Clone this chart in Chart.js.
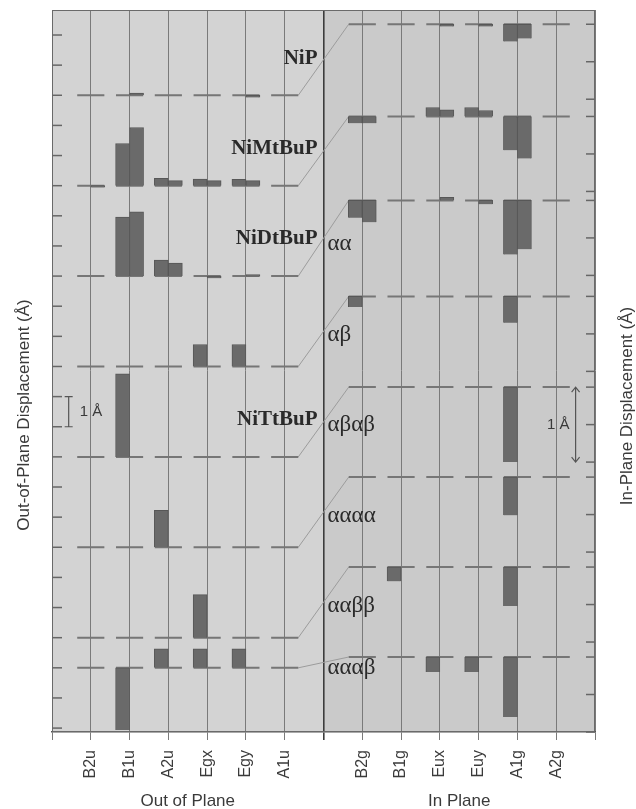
<!DOCTYPE html>
<html lang="en">
<head>
<meta charset="UTF-8">
<title>Out-of-plane and in-plane displacements</title>
<script src="https://cdn.jsdelivr.net/npm/chart.js"></script>
<style>
  html, body { margin: 0; padding: 0; background: #fff; }
  #chart { display: block; }
</style>
</head>
<body>
<canvas id="chart" width="636" height="809"></canvas>
<script>
// symmetry species: out-of-plane (left panel) and in-plane (right panel)
const outCats = ['B2u', 'B1u', 'A2u', 'Egx', 'Egy', 'A1u'];
const inCats = ['B2g', 'B1g', 'Eux', 'Euy', 'A1g', 'A2g'];

// one row per molecule / conformer, top to bottom
const molLabels = ['NiP', 'NiMtBuP', 'NiDtBuP', '', 'NiTtBuP', '', '', ''];
const confLabels = ['', '', 'αα', 'αβ', 'αβαβ', 'αααα', 'ααββ', 'αααβ'];

// zero line of each row (Å, on the axis of its panel)
const outBase = [21, 18, 15, 12, 9, 6, 3, 2];
const inBase = [9.44, 8.21, 7.09, 5.81, 4.6, 3.4, 2.2, 1.0];

// displacements in Å, first and second bar of each pair
const outA = [
  [0, 0, 0, 0, 0, 0],
  [0, 1.40, 0.24, 0.22, 0.21, 0],
  [0, 1.96, 0.53, 0, 0, 0],
  [0, 0, 0, 0.73, 0.73, 0],
  [0, 2.76, 0, 0, 0, 0],
  [0, 0, 1.23, 0, 0, 0],
  [0, 0, 0, 1.43, 0, 0],
  [0, -2.06, 0.63, 0.63, 0.63, 0]
];
const outB = [
  [0, 0.07, 0, 0, -0.07, 0],
  [-0.05, 1.93, 0.17, 0.17, 0.17, 0],
  [0, 2.13, 0.43, -0.07, 0.05, 0],
  [0, 0, 0, 0, 0, 0],
  [0, 0, 0, 0, 0, 0],
  [0, 0, 0, 0, 0, 0],
  [0, 0, 0, 0, 0, 0],
  [0, 0, 0, 0, 0, 0]
];
const inA = [
  [0, 0, 0, 0, -0.23, 0],
  [-0.09, 0, 0.12, 0.12, -0.45, 0],
  [-0.23, 0, 0, 0, -0.72, 0],
  [-0.14, 0, 0, 0, -0.35, 0],
  [0, 0, 0, 0, -1.0, 0],
  [0, 0, 0, 0, -0.51, 0],
  [0, -0.19, 0, 0, -0.52, 0],
  [0, 0, -0.2, -0.2, -0.8, 0]
];
const inB = [
  [0, 0, -0.03, -0.03, -0.19, 0],
  [-0.09, 0, 0.09, 0.08, -0.56, 0],
  [-0.29, 0, 0.04, -0.05, -0.65, 0],
  [0, 0, 0, 0, 0, 0],
  [0, 0, 0, 0, 0, 0],
  [0, 0, 0, 0, 0, 0],
  [0, 0, 0, 0, 0, 0],
  [0, 0, 0, 0, 0, 0]
];

const panels = [
  { axis: 'y', first: 1, base: outBase, a: outA, b: outB },
  { axis: 'y2', first: 8, base: inBase, a: inA, b: inB }
];

function tickName(v) {
  if (v >= 1 && v <= 6) return outCats[v - 1];
  if (v >= 8 && v <= 13) return inCats[v - 8];
  return '';
}

const datasets = [];
['a', 'b'].forEach(stack => {
  panels.forEach(p => {
    p[stack].forEach((row, r) => {
      datasets.push({
        type: 'bar',
        stack: stack,
        yAxisID: p.axis,
        data: row.map((v, i) => v ? { x: p.first + i, y: [p.base[r], p.base[r] + v] } : null).filter(Boolean),
        backgroundColor: '#6a6a6a',
        borderColor: '#575757',
        borderWidth: 1,
        barThickness: 14,
        order: 0
      });
    });
  });
});

// dashed zero line of every row: one short dash under each species
const dashHalf = 0.35;
panels.forEach(p => {
  const pts = [];
  p.base.forEach(b => {
    for (let i = 0; i < 6; i++) {
      const c = p.first + i;
      pts.push({ x: c - dashHalf, y: b }, { x: c + dashHalf, y: b }, { x: c + 0.5, y: null });
    }
  });
  datasets.push({
    type: 'line',
    yAxisID: p.axis,
    data: pts,
    borderColor: '#767676',
    borderWidth: 2,
    pointRadius: 0,
    spanGaps: false,
    order: 1
  });
});

function vText(ctx, text, cx, cy) {
  ctx.save();
  ctx.translate(cx, cy);
  ctx.rotate(-Math.PI / 2);
  ctx.textAlign = 'center';
  ctx.textBaseline = 'middle';
  ctx.fillText(text, 0, 0);
  ctx.restore();
}

const decorPlugin = {
  id: 'decor',
  beforeDraw(chart) {
    const { ctx, chartArea: a, scales: { x } } = chart;
    const mid = x.getPixelForValue(7);
    ctx.save();
    ctx.fillStyle = '#fff';
    ctx.fillRect(0, 0, chart.width, chart.height);
    ctx.fillStyle = '#d3d3d3';
    ctx.fillRect(a.left, a.top, mid - a.left, a.bottom - a.top);
    ctx.fillStyle = '#cacaca';
    ctx.fillRect(mid, a.top, a.right - mid, a.bottom - a.top);
    ctx.restore();
  },
  beforeDatasetsDraw(chart) {
    // thin grey links from each left zero line to the matching right one
    const { ctx, scales: { x, y, y2 } } = chart;
    ctx.save();
    ctx.strokeStyle = '#9c9c9c';
    ctx.lineWidth = 1;
    outBase.forEach((b, r) => {
      ctx.beginPath();
      ctx.moveTo(x.getPixelForValue(6 + dashHalf), y.getPixelForValue(b));
      ctx.lineTo(x.getPixelForValue(8 - dashHalf), y2.getPixelForValue(inBase[r]));
      ctx.stroke();
    });
    ctx.restore();
  },
  afterDatasetsDraw(chart) {
    const { ctx, chartArea: a, scales: { x, y, y2 } } = chart;
    ctx.save();

    // frame
    ctx.strokeStyle = '#6a6a6a';
    ctx.lineWidth = 1;
    ctx.strokeRect(a.left + 0.5, a.top + 0.5, a.right - a.left - 1, a.bottom - a.top - 1);

    // inward tick marks on both value axes
    ctx.strokeStyle = '#666';
    ctx.lineWidth = 1.5;
    y.ticks.forEach(t => {
      const py = y.getPixelForValue(t.value);
      ctx.beginPath(); ctx.moveTo(a.left, py); ctx.lineTo(a.left + 10, py); ctx.stroke();
    });
    y2.ticks.forEach(t => {
      const py = y2.getPixelForValue(t.value);
      ctx.beginPath(); ctx.moveTo(a.right - 9, py); ctx.lineTo(a.right, py); ctx.stroke();
    });

    // molecule names (bold) and conformer names
    const mid = x.getPixelForValue(7);
    ctx.fillStyle = '#2a2a2a';
    ctx.textBaseline = 'alphabetic';
    ctx.textAlign = 'right';
    ctx.font = 'bold 21px "Liberation Serif", serif';
    molLabels.forEach((t, r) => {
      if (t) ctx.fillText(t, mid - 6, y.getPixelForValue(outBase[r] + 1.05));
    });
    ctx.textAlign = 'left';
    ctx.font = '23px "Liberation Serif", serif';
    confLabels.forEach((t, r) => {
      if (!t) return;
      const off = r === confLabels.length - 1 ? -0.2 : 0.85;
      ctx.fillText(t, mid + 4, y.getPixelForValue(outBase[r] + off));
    });

    // 1 Å scale markers
    ctx.strokeStyle = '#555';
    ctx.fillStyle = '#3a3a3a';
    ctx.lineWidth = 1.2;
    const lx = x.getPixelForValue(0.43);
    const ly1 = y.getPixelForValue(outBase[4] + 2);
    const ly2 = y.getPixelForValue(outBase[4] + 1);
    ctx.beginPath();
    ctx.moveTo(lx, ly1); ctx.lineTo(lx, ly2);
    ctx.moveTo(lx - 4, ly1); ctx.lineTo(lx + 4, ly1);
    ctx.moveTo(lx - 4, ly2); ctx.lineTo(lx + 4, ly2);
    ctx.stroke();
    ctx.font = '15px "Liberation Sans", sans-serif';
    ctx.textAlign = 'left';
    ctx.textBaseline = 'middle';
    ctx.fillText('1 Å', lx + 11, (ly1 + ly2) / 2);

    const rx = x.getPixelForValue(13.5);
    const ry1 = y2.getPixelForValue(inBase[4]);
    const ry2 = y2.getPixelForValue(inBase[4] - 1);
    ctx.beginPath();
    ctx.moveTo(rx, ry1); ctx.lineTo(rx, ry2);
    ctx.moveTo(rx - 4, ry1 + 5); ctx.lineTo(rx, ry1); ctx.lineTo(rx + 4, ry1 + 5);
    ctx.moveTo(rx - 4, ry2 - 5); ctx.lineTo(rx, ry2); ctx.lineTo(rx + 4, ry2 - 5);
    ctx.stroke();
    ctx.textAlign = 'right';
    ctx.fillText('1 Å', rx - 6, (ry1 + ry2) / 2);

    // axis titles
    ctx.fillStyle = '#3a3a3a';
    ctx.font = '17px "Liberation Sans", sans-serif';
    vText(ctx, 'Out-of-Plane Displacement (Å)', 24, 415);
    vText(ctx, 'In-Plane Displacement (Å)', 627, 406);
    ctx.textAlign = 'center';
    ctx.textBaseline = 'alphabetic';
    ctx.fillText('Out of Plane', x.getPixelForValue(3.5), 806);
    ctx.fillText('In Plane', x.getPixelForValue(10.5), 806);

    ctx.restore();
  }
};

const config = {
  type: 'bar',
  data: { datasets: datasets },
  options: {
    responsive: false,
    animation: false,
    layout: { padding: { top: 10, left: 0, right: 0, bottom: 0 } },
    plugins: {
      legend: { display: false },
      tooltip: { enabled: false }
    },
    scales: {
      x: {
        type: 'linear',
        min: 0,
        max: 14,
        offset: false,
        afterBuildTicks: s => { s.ticks = Array.from({ length: 15 }, (_, i) => ({ value: i })); },
        afterFit: s => { s.height = 77; },
        ticks: {
          autoSkip: false,
          minRotation: 90,
          maxRotation: 90,
          padding: 10,
          color: '#3a3a3a',
          font: { family: 'Liberation Sans', size: 16 },
          callback: v => tickName(v)
        },
        grid: {
          offset: false,
          tickLength: 8,
          color: c => (c.tick && c.tick.value === 7) ? '#3c3c3c' : '#7a7a7a',
          lineWidth: c => (c.tick && c.tick.value === 7) ? 1.6 : 1
        },
        border: { display: true, color: '#555', width: 1.5 }
      },
      y: {
        type: 'linear',
        position: 'left',
        min: -0.13,
        max: 23.83,
        stacked: false,
        afterBuildTicks: s => {
          const t = [];
          for (let v = Math.ceil(s.min); v <= Math.floor(s.max); v++) t.push({ value: v });
          s.ticks = t;
        },
        afterFit: s => { s.width = 52; },
        ticks: { display: false },
        grid: { display: false },
        border: { display: false }
      },
      y2: {
        type: 'linear',
        position: 'right',
        min: 0,
        max: 9.63,
        stacked: false,
        afterBuildTicks: s => {
          const t = [];
          inBase.forEach(b => { t.push({ value: b }, { value: b - 0.5 }, { value: b - 1 }); });
          s.ticks = t.filter(k => k.value >= s.min);
        },
        afterFit: s => { s.width = 41; },
        ticks: { display: false },
        grid: { display: false },
        border: { display: false }
      }
    }
  },
  plugins: [decorPlugin]
};

new Chart(document.getElementById('chart').getContext('2d'), config);
</script>
</body>
</html>
